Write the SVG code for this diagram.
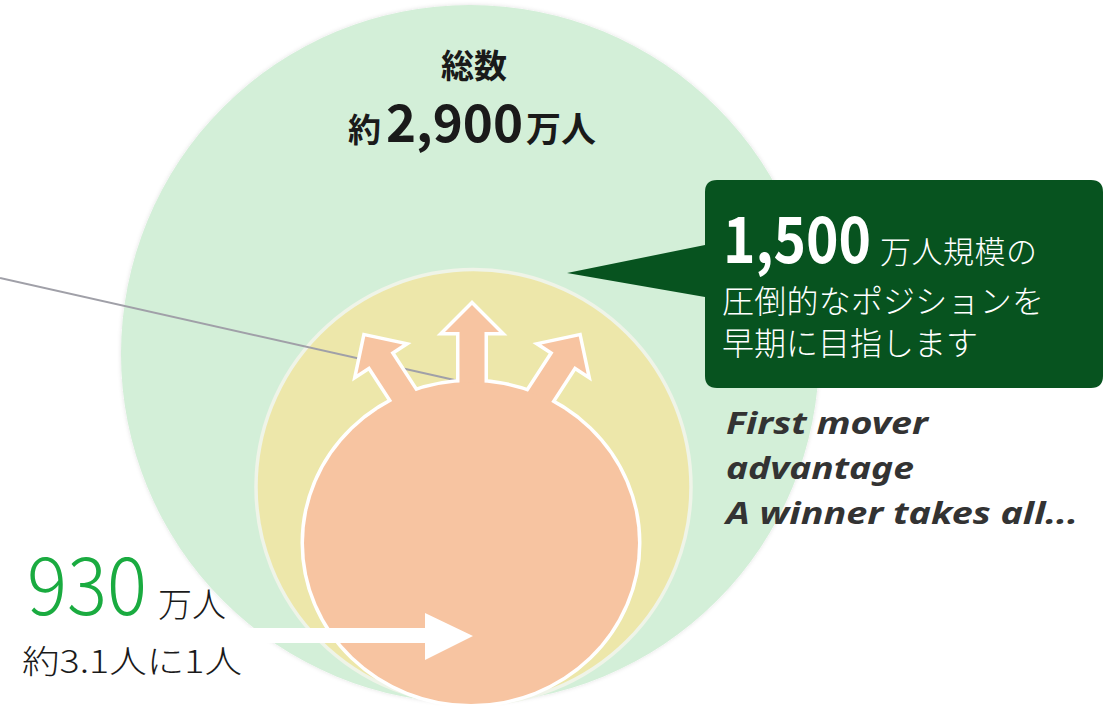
<svg xmlns="http://www.w3.org/2000/svg" width="1111" height="706" viewBox="0 0 1111 706">
<defs>
<style>
.jp{font-family:"Noto Sans CJK JP","Noto Sans",sans-serif;}
.b{font-weight:bold;}
.lt{font-weight:300;}
.dark{fill:#1a1a1a;}
.wt{fill:#ffffff;}
.it{font-family:"Noto Sans","Liberation Sans",sans-serif;font-style:italic;font-weight:bold;fill:#333333;font-size:30px;}
</style>
<filter id="sh" x="-5%" y="-5%" width="110%" height="110%">
<feDropShadow dx="0" dy="0" stdDeviation="2" flood-color="#000" flood-opacity="0.12"/>
</filter>
<path id="arr" d="M472,305 L499,332 L484.5,332 L484.5,410 L459.5,410 L459.5,332 L445,332 Z"/>
</defs>
<rect width="1111" height="706" fill="#ffffff"/>

<g id="total">
<circle cx="470" cy="354" r="349" fill="#d3efd8" filter="url(#sh)"/>
<text class="jp b dark" x="474" y="78" font-size="33" text-anchor="middle">総数</text>
<text class="jp b dark" x="348" y="142" font-size="33">約</text>
<text class="jp b dark" x="386" y="142" font-size="52" textLength="137" lengthAdjust="spacingAndGlyphs">2,900</text>
<text class="jp b dark" x="526" y="142" font-size="35">万人</text>
</g>

<g id="market">
<circle cx="473.5" cy="487" r="217.5" fill="#ede7aa" stroke="#eff4e8" stroke-width="3.5"/>
</g>

<g id="connectors">
<line x1="0" y1="278" x2="459" y2="381" stroke="#a0a0a8" stroke-width="2"/>
</g>

<g id="users">
<g stroke="#ffffff" stroke-width="7" stroke-linejoin="miter" fill="#ffffff">
<use href="#arr"/>
<use href="#arr" transform="rotate(-33 472 501)"/>
<use href="#arr" transform="rotate(33 472 501)"/>
<ellipse cx="471" cy="543" rx="167" ry="161"/>
</g>
<g fill="#f7c4a1">
<use href="#arr"/>
<use href="#arr" transform="rotate(-33 472 501)"/>
<use href="#arr" transform="rotate(33 472 501)"/>
<ellipse cx="471" cy="543" rx="167" ry="161"/>
</g>
</g>

<g id="connectors2">
<polygon points="245,628 425,628 425,613 473,636 425,660 425,643 245,643" fill="#ffffff"/>
</g>

<g id="callout">
<path d="M717,180 H1091 Q1103,180 1103,192 V376 Q1103,388 1091,388 H717 Q705,388 705,376 V297 L567,273 L705,245 V192 Q705,180 717,180 Z" fill="#07531f"/>
<text class="jp b wt" x="723" y="263" font-size="64" textLength="148" lengthAdjust="spacingAndGlyphs">1,500</text>
<text class="jp lt wt" x="880" y="263" font-size="31" textLength="157">万人規模の</text>
<text class="jp lt wt" x="722" y="313" font-size="32" textLength="322">圧倒的なポジションを</text>
<text class="jp lt wt" x="722" y="355" font-size="32" textLength="256">早期に目指します</text>
</g>

<g id="tagline">
<text class="it" x="726" y="434" textLength="202" lengthAdjust="spacingAndGlyphs">First mover</text>
<text class="it" x="726" y="479" textLength="188" lengthAdjust="spacingAndGlyphs">advantage</text>
<text class="it" x="726" y="524" textLength="352" lengthAdjust="spacingAndGlyphs">A winner takes all...</text>
</g>

<g id="caption">
<text class="jp lt" x="27" y="615" font-size="80" fill="#1aab40" textLength="120" lengthAdjust="spacingAndGlyphs">930</text>
<text class="jp lt dark" x="158" y="617" font-size="34">万人</text>
<text class="jp lt dark" x="22" y="673" font-size="32" textLength="220" lengthAdjust="spacingAndGlyphs">約3.1人に1人</text>
</g>
</svg>
